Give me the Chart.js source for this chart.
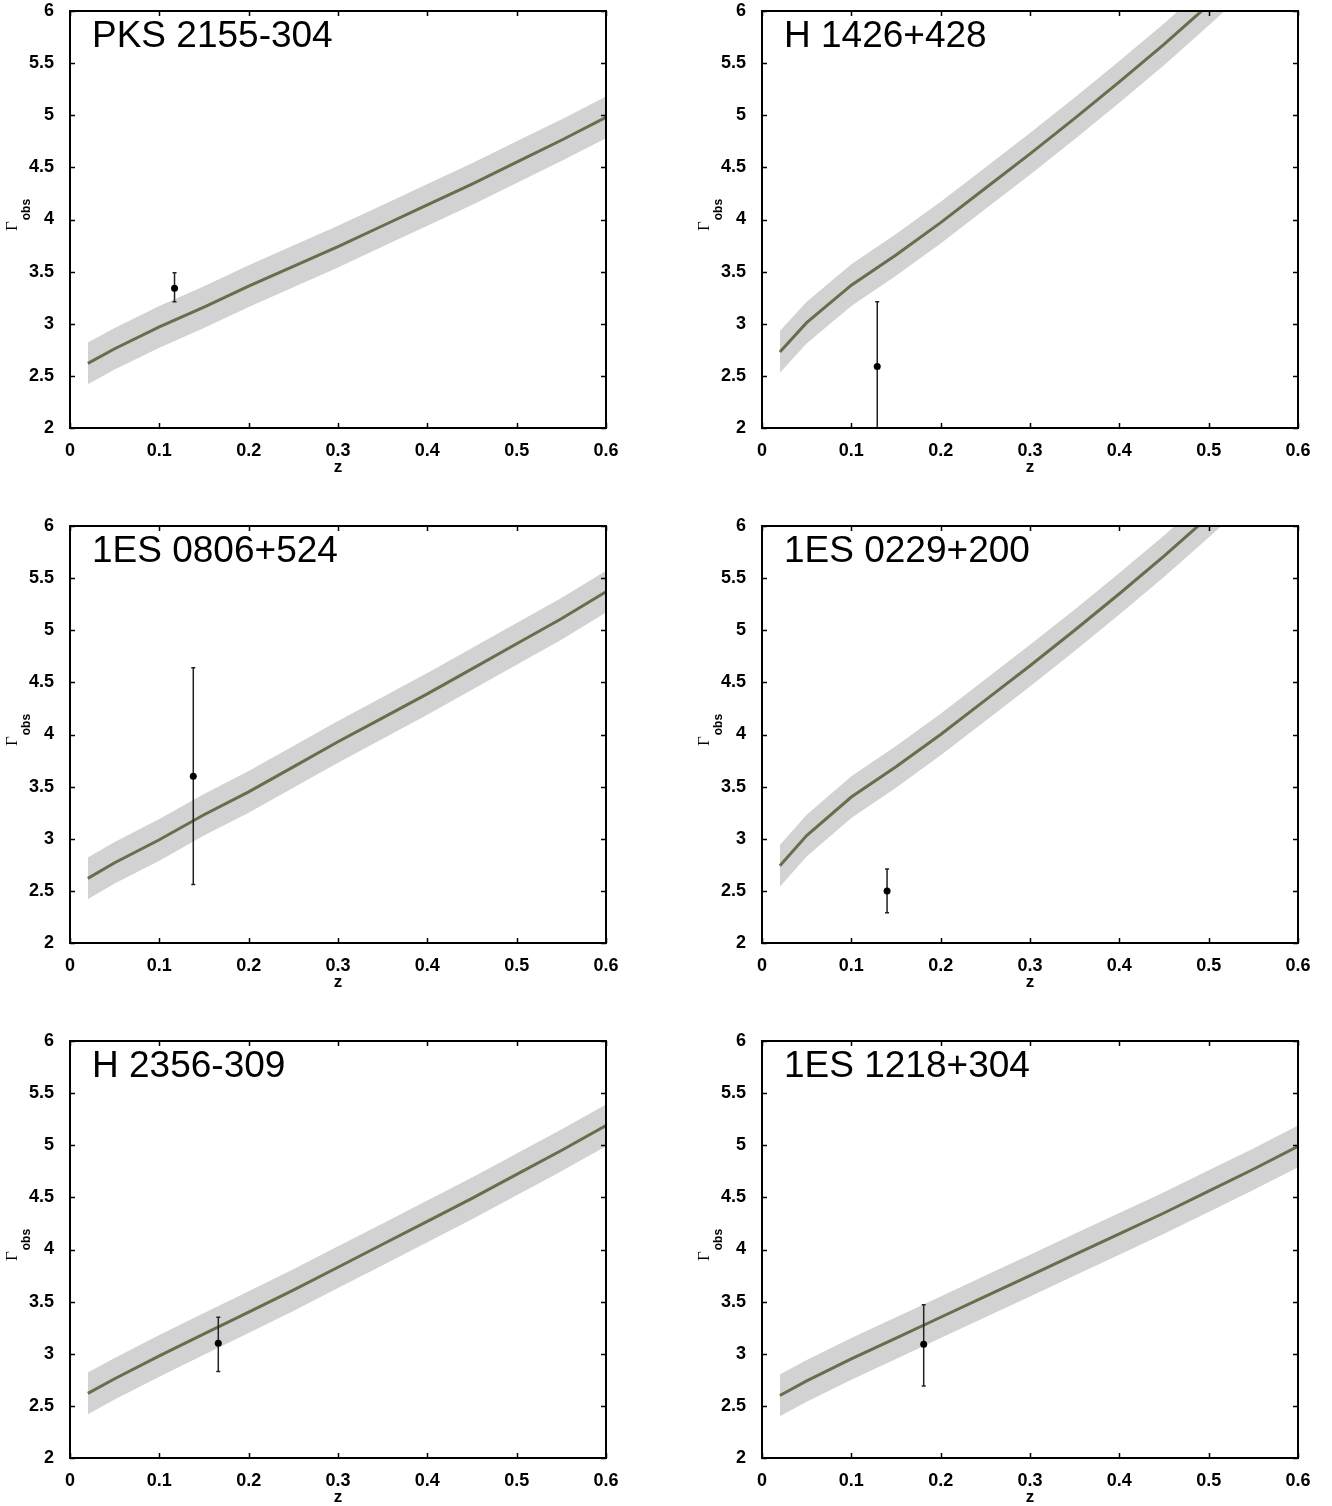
<!DOCTYPE html>
<html>
<head>
<meta charset="utf-8">
<script src="https://cdn.jsdelivr.net/npm/chart.js@4.4.1/dist/chart.umd.min.js"></script>
<style>
body { margin: 0; background: #fff; width: 1332px; height: 1506px; position: relative; overflow: hidden; }
canvas { position: absolute; }
</style>
</head>
<body>
<canvas id="c0" width="640" height="478" style="left:0px;top:0px"></canvas>
<canvas id="c1" width="640" height="478" style="left:692px;top:0px"></canvas>
<canvas id="c2" width="640" height="478" style="left:0px;top:515px"></canvas>
<canvas id="c3" width="640" height="478" style="left:692px;top:515px"></canvas>
<canvas id="c4" width="640" height="478" style="left:0px;top:1030px"></canvas>
<canvas id="c5" width="640" height="478" style="left:692px;top:1030px"></canvas>
<script>
// redshift grid of the model curves
var zNodes = [0.02, 0.05, 0.1, 0.15, 0.2, 0.25, 0.3, 0.35, 0.4, 0.45, 0.5, 0.55, 0.6];

// predicted Gamma_obs per source
var gPKS2155 = [2.62, 2.76, 2.97, 3.16, 3.36, 3.55, 3.74, 3.94, 4.14, 4.34, 4.55, 4.76, 4.98];
var gH1426   = [2.73, 3.01, 3.37, 3.66, 3.97, 4.30, 4.63, 4.97, 5.32, 5.68, 6.06, 6.45, 6.85];
var g1ES0806 = [2.62, 2.77, 2.99, 3.23, 3.45, 3.69, 3.93, 4.16, 4.39, 4.63, 4.87, 5.11, 5.37];
var g1ES0229 = [2.74, 3.03, 3.40, 3.69, 4.00, 4.33, 4.66, 5.00, 5.35, 5.71, 6.09, 6.48, 6.88];
var gH2356   = [2.62, 2.76, 2.98, 3.19, 3.40, 3.61, 3.83, 4.05, 4.27, 4.49, 4.72, 4.95, 5.19];
var g1ES1218 = [2.60, 2.74, 2.95, 3.15, 3.35, 3.55, 3.75, 3.95, 4.15, 4.35, 4.56, 4.77, 4.99];

var sourceNames = ['PKS 2155-304', 'H 1426+428', '1ES 0806+524', '1ES 0229+200', 'H 2356-309', '1ES 1218+304'];
var curves = [gPKS2155, gH1426, g1ES0806, g1ES0229, gH2356, g1ES1218];
var bandHalf = [0.2, 0.2, 0.2, 0.2, 0.2, 0.2];

// measured points with error bars
var obsZ  = [0.117, 0.129, 0.138, 0.140, 0.166, 0.181];
var obsG  = [3.34, 2.59, 3.60, 2.50, 3.10, 3.09];
var obsLo = [3.21, 1.90, 2.56, 2.29, 2.83, 2.69];
var obsHi = [3.49, 3.21, 4.64, 2.71, 3.35, 3.47];

var xTicks = [0, 0.1, 0.2, 0.3, 0.4, 0.5, 0.6];
var yTicks = [2, 2.5, 3, 3.5, 4, 4.5, 5, 5.5, 6];

var tickFont = { family: '"Liberation Sans", Arial, sans-serif', size: 18, weight: 'bold' };

var framePlugin = {
  id: 'frame',
  afterDatasetDraw: function(chart, args, opts) {
    if (args.index !== 1) return;
    var i = opts.idx, ctx = chart.ctx, a = chart.chartArea;
    var xs = chart.scales.x, ys = chart.scales.y;
    var px = xs.getPixelForValue(obsZ[i]);
    var yLo = ys.getPixelForValue(obsLo[i]), yHi = ys.getPixelForValue(obsHi[i]);
    ctx.save();
    ctx.beginPath();
    ctx.rect(a.left, a.top, a.right - a.left, a.bottom - a.top);
    ctx.clip();
    ctx.strokeStyle = '#222';
    ctx.lineWidth = 1.5;
    ctx.beginPath();
    ctx.moveTo(px, yLo); ctx.lineTo(px, yHi);
    ctx.moveTo(px - 2, yLo); ctx.lineTo(px + 2, yLo);
    ctx.moveTo(px - 2, yHi); ctx.lineTo(px + 2, yHi);
    ctx.stroke();
    ctx.restore();
  },
  afterDraw: function(chart, args, opts) {
    var i = opts.idx, ctx = chart.ctx, a = chart.chartArea;
    var xs = chart.scales.x, ys = chart.scales.y;
    ctx.save();
    ctx.strokeStyle = '#000';
    ctx.lineWidth = 1.5;
    ctx.beginPath();
    xTicks.forEach(function(v) {
      var p = Math.round(xs.getPixelForValue(v)) + 0.5;
      ctx.moveTo(p, a.bottom); ctx.lineTo(p, a.bottom - 5);
      ctx.moveTo(p, a.top); ctx.lineTo(p, a.top + 5);
    });
    yTicks.forEach(function(v) {
      var p = Math.round(ys.getPixelForValue(v)) + 0.5;
      ctx.moveTo(a.left, p); ctx.lineTo(a.left + 5, p);
      ctx.moveTo(a.right, p); ctx.lineTo(a.right - 5, p);
    });
    ctx.stroke();
    ctx.lineWidth = 2;
    ctx.strokeRect(a.left, a.top, a.right - a.left, a.bottom - a.top);

    // source name
    ctx.fillStyle = '#000';
    ctx.font = '37px "Liberation Sans", Arial, sans-serif';
    ctx.textBaseline = 'alphabetic';
    ctx.textAlign = 'left';
    ctx.fillText(sourceNames[i], a.left + 22, a.top + 36);

    // y axis label: Gamma with subscript obs
    var cy = (a.top + a.bottom) / 2 - 4;
    ctx.translate(17, cy);
    ctx.rotate(-Math.PI / 2);
    ctx.font = '17px "Liberation Serif", "Times New Roman", serif';
    var w1 = ctx.measureText('\u0393').width;
    ctx.font = 'bold 12px "Liberation Sans", Arial, sans-serif';
    var w2 = ctx.measureText('obs').width;
    var x0 = -(w1 + w2) / 2;
    ctx.font = '17px "Liberation Serif", "Times New Roman", serif';
    ctx.fillText('\u0393', x0, 0);
    ctx.font = 'bold 12px "Liberation Sans", Arial, sans-serif';
    ctx.fillText('obs', x0 + w1 + 1, 13);
    ctx.restore();
  }
};

function pts(ys) {
  return zNodes.map(function(z, k) { return { x: z, y: ys[k] }; });
}

function makePanel(i) {
  var g = curves[i];
  var upper = g.map(function(v) { return v + bandHalf[i]; });
  var lower = g.map(function(v) { return v - bandHalf[i]; });
  new Chart(document.getElementById('c' + i).getContext('2d'), {
    type: 'line',
    data: {
      datasets: [
        { data: [{ x: obsZ[i], y: obsG[i] }], showLine: false, pointRadius: 3.5,
          pointBackgroundColor: '#000', pointBorderColor: '#000', pointBorderWidth: 0 },
        { data: pts(g), borderColor: '#6b6c4b', borderWidth: 3, pointRadius: 0, fill: false, tension: 0 },
        { data: pts(upper), borderWidth: 0, borderColor: 'rgba(0,0,0,0)', pointRadius: 0,
          fill: '+1', backgroundColor: '#d2d2d2', tension: 0 },
        { data: pts(lower), borderWidth: 0, borderColor: 'rgba(0,0,0,0)', pointRadius: 0, fill: false, tension: 0 }
      ]
    },
    options: {
      responsive: false,
      animation: false,
      layout: { padding: { top: 11, right: 34, left: 0, bottom: 0 } },
      plugins: {
        legend: { display: false },
        tooltip: { enabled: false },
        frame: { idx: i }
      },
      scales: {
        x: {
          type: 'linear', min: 0, max: 0.6,
          afterBuildTicks: function(s) { s.ticks = xTicks.map(function(v) { return { value: v }; }); },
          afterFit: function(s) { s.height = 50; },
          grid: { display: false },
          border: { display: false },
          ticks: { color: '#000', padding: 4, maxRotation: 0, font: tickFont,
                   callback: function(v) { return String(v); } },
          title: { display: true, text: 'z', color: '#000', padding: 0,
                   font: { family: '"Liberation Sans", Arial, sans-serif', size: 17, weight: 'bold' } }
        },
        y: {
          type: 'linear', min: 2, max: 6,
          afterBuildTicks: function(s) { s.ticks = yTicks.map(function(v) { return { value: v }; }); },
          afterFit: function(s) { s.width = 70; s.paddingTop = 0; s.paddingBottom = 0; },
          grid: { display: false },
          border: { display: false },
          ticks: { color: '#000', padding: 8, font: tickFont,
                   callback: function(v) { return String(v); } }
        }
      }
    },
    plugins: [framePlugin]
  });
}

for (var i = 0; i < 6; i++) makePanel(i);
</script>
</body>
</html>
